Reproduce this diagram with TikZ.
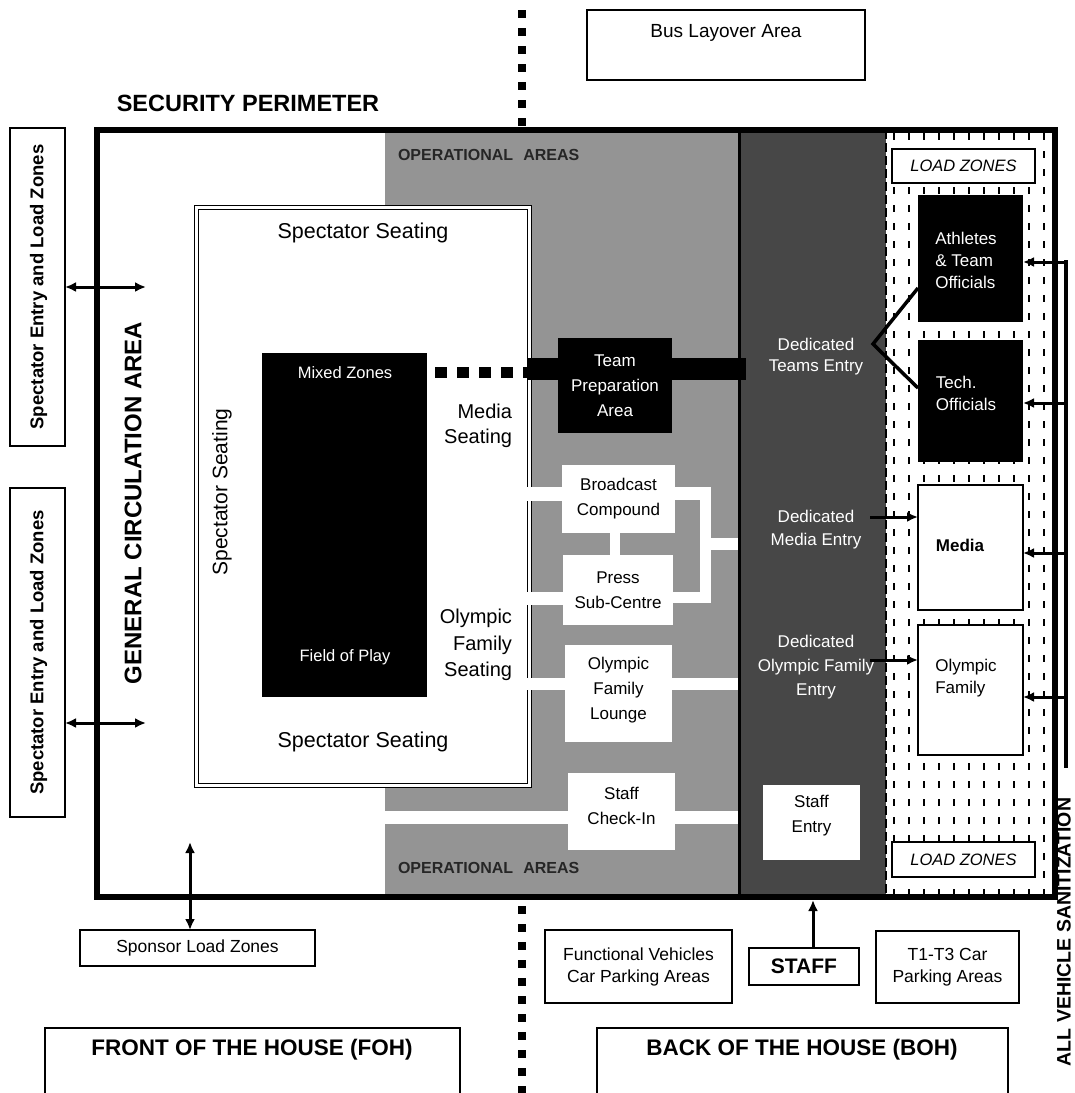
\documentclass[tikz,border=0pt]{standalone}
\usepackage{fontspec}
\setmainfont{Liberation Sans}
\usetikzlibrary{arrows.meta}
\begin{document}
\begin{tikzpicture}[x=1pt,y=-1pt,
  every node/.style={inner sep=0pt, outer sep=0pt},
  wbox/.style={draw=black, line width=1.5pt, fill=white},
  tbox/.style={draw=black, line width=1.3pt, fill=white},
  txt/.style={font=\fontsize{17}{22}\selectfont, align=center},
  wtxt/.style={txt, text=white},
  seat/.style={font=\fontsize{20}{25}\selectfont, align=right},
  arr/.style={line width=3pt, -{Latex[length=11pt,width=10pt]}},
  darr/.style={line width=3pt, {Latex[length=11pt,width=10pt]}-{Latex[length=11pt,width=10pt]}},
  ]
\useasboundingbox (0,0) rectangle (1075,1093);
\fill[white] (0,0) rectangle (1075,1093);

% ---------- regions ----------
\fill[black!42] (385,130) rectangle (738,897);
\fill[black!72] (738,130) rectangle (886,897);

% load zone dash pattern
\begin{scope}
\clip (887,133) rectangle (1052,894);
\foreach \x in {894,909,...,1049}
  \draw[line width=1.8pt, dash pattern=on 7pt off 11pt] (\x,133) -- (\x,897);
\end{scope}
\draw[line width=2pt, dash pattern=on 9pt off 4pt] (886,130) -- (886,897);

% ---------- stadium ----------
\node[draw, fill=white, line width=1.3pt, double, double distance=2.5pt,
      minimum width=333, minimum height=578] (stad) at (363,496.5) {};

% corridors
\fill[white] (526,487) rectangle (565,501);
\fill[white] (526,592) rectangle (565,605);
\fill[white] (526,678) rectangle (739,690);
\fill[white] (385,811) rectangle (739,824);
\fill[white] (672,487) rectangle (711,500);
\fill[white] (672,592) rectangle (711,603);
\fill[white] (700,487) rectangle (711,603);
\fill[white] (700,538) rectangle (739,550);
\fill[white] (610,530) rectangle (620,558);

% field of play
\node[fill=black, minimum width=165, minimum height=344] (fop) at (344.5,525) {};
\node[wtxt, font=\fontsize{16.5}{20}\selectfont] (mz) at (345,373) {Mixed Zones};
\node[wtxt, font=\fontsize{16.5}{20}\selectfont] (fp) at (345,657) {Field of Play};

% team preparation
\coordinate (bandL) at (527,369);
\coordinate (bandR) at (746,369);
\draw[line width=22pt] (bandL) -- (bandR);
\coordinate (sqs) at (435,372);
\coordinate (sqe) at (529,372);
\draw[line width=11pt, dash pattern=on 12pt off 10pt] (sqs) -- (sqe);
\node[fill=black, text=white, txt, font=\fontsize{17}{25}\selectfont,
      minimum width=114, minimum height=95] (tpa) at (615,385.5) {Team\\Preparation\\Area};

% white operational boxes
\node[fill=white, txt, font=\fontsize{17}{25}\selectfont, minimum width=113, minimum height=68] (bc) at (618.5,499) {Broadcast\\Compound};
\node[fill=white, txt, font=\fontsize{17}{25}\selectfont, minimum width=110, minimum height=70] (psc) at (618,590) {Press\\Sub-Centre};
\node[fill=white, minimum width=107, minimum height=97] (ofl) at (618.5,693.5) {};
\node[txt, font=\fontsize{17}{25}\selectfont] (ofltxt) at (618.5,690) {Olympic\\Family\\Lounge};
\node[fill=white, minimum width=107, minimum height=77] (sci) at (621.5,811.5) {};
\node[txt, font=\fontsize{17}{25}\selectfont] (scitxt) at (621.5,806) {Staff\\Check-In};
\node[fill=white, minimum width=97, minimum height=75] (sen) at (811.5,822.5) {};
\node[txt, font=\fontsize{17}{25}\selectfont] (sentxt) at (811.5,816) {Staff\\Entry};

% right column boxes
\node[tbox, minimum width=143, minimum height=34, font=\itshape\fontsize{16.5}{20}\selectfont] (lzt) at (963.5,166) {LOAD ZONES};
\node[fill=black, minimum width=105, minimum height=127] (ath) at (970.5,258.5) {};
\node[wtxt, align=left] (athtxt) at (966,260) {Athletes\\\& Team\\Officials};
\node[fill=black, minimum width=105, minimum height=122] (tech) at (970.5,401) {};
\node[wtxt, align=left] (techtxt) at (966,393) {Tech.\\Officials};
\node[wbox, minimum width=105, minimum height=125] (med) at (970.5,547.5) {};
\node[font=\bfseries\fontsize{17}{20}\selectfont] (medtxt) at (960,545) {Media};
\node[wbox, minimum width=105, minimum height=130] (ofam) at (970.5,690) {};
\node[txt, align=left] (ofamtxt) at (966,678) {Olympic\\Family};
\node[tbox, minimum width=143, minimum height=35, font=\itshape\fontsize{16.5}{20}\selectfont] (lzb) at (963.5,859.5) {LOAD ZONES};

% dividers and perimeter
\draw[line width=3.5pt] (739.5,130) -- (739.5,897);
\draw[line width=6pt] (97,130) rectangle (1055,897);

% dashed FOH/BOH separator
\coordinate (sepA) at (522,10);
\coordinate (sepB) at (522,126);
\coordinate (sepC) at (522,906);
\coordinate (sepD) at (522,1100);
\draw[line width=8pt, dash pattern=on 8pt off 10pt] (sepA) -- (sepB);
\draw[line width=8pt, dash pattern=on 8pt off 10pt] (sepC) -- (sepD);

% dedicated entries (white text)
\node[wtxt, font=\fontsize{17}{21}\selectfont] (dte) at (816,357) {Dedicated\\Teams Entry};
\node[wtxt, font=\fontsize{17}{23}\selectfont] (dme) at (816,530) {Dedicated\\Media Entry};
\node[wtxt, font=\fontsize{17}{24}\selectfont] (dofe) at (816,667) {Dedicated\\Olympic Family\\Entry};

\coordinate (tj) at (873,344);
\draw[line width=3.5pt] ([yshift=-29.5pt]ath.west) -- (tj) -- ([yshift=13pt]tech.west);
\coordinate (dmeR) at (870,517);
\draw[arr] (dmeR) -- ([yshift=30.5pt]med.west);
\coordinate (dofR) at (870,660);
\draw[arr] (dofR) -- ([yshift=30pt]ofam.west);

% vehicle sanitization line
\coordinate (vs1) at (1066,262);
\coordinate (vs2) at (1066,403);
\coordinate (vs3) at (1066,553);
\coordinate (vs4) at (1066,697);
\coordinate (vsB) at (1066,768);
\draw[line width=4pt] ([yshift=2pt]vs1) -- (vsB);
\draw[arr] (vs1) -- (ath.east |- vs1);
\draw[arr] (vs2) -- (tech.east |- vs2);
\draw[arr] (vs3) -- (med.east |- vs3);
\draw[arr] (vs4) -- (ofam.east |- vs4);
\node[rotate=90, font=\bfseries\fontsize{19.5}{22}\selectfont] (avs) at (1064,932) {ALL VEHICLE SANITIZATION};

% stadium texts
\node[font=\fontsize{21.5}{25}\selectfont] (ss1) at (363,233) {Spectator Seating};
\node[font=\fontsize{21.5}{25}\selectfont] (ss2) at (363,742) {Spectator Seating};
\node[font=\fontsize{21}{25}\selectfont, rotate=90] (ss3) at (222,492) {Spectator Seating};
\node[seat, anchor=east] (ms) at (512,425.5) {Media\\Seating};
\node[seat, anchor=east, font=\fontsize{20}{26.5}\selectfont] (ofs) at (512,645) {Olympic\\Family\\Seating};

% operational area labels
\node[anchor=west, font=\bfseries\fontsize{16}{18}\selectfont, text=black!85] (opa1) at (398,155) {OPERATIONAL\hspace{10pt}AREAS};
\node[anchor=west, font=\bfseries\fontsize{16}{18}\selectfont, text=black!85] (opa2) at (398,868) {OPERATIONAL\hspace{10pt}AREAS};

% titles
\node[font=\bfseries\fontsize{23.5}{28}\selectfont] (secp) at (248,103) {SECURITY PERIMETER};
\node[rotate=90, font=\bfseries\fontsize{24}{28}\selectfont] (gca) at (133,503) {GENERAL CIRCULATION AREA};

% left spectator entry boxes
\node[tbox, minimum width=55, minimum height=318] (spec1) at (37.5,287) {};
\node[rotate=90, font=\bfseries\fontsize{18.5}{22}\selectfont] (spec1t) at (38.5,287) {Spectator Entry and Load Zones};
\node[tbox, minimum width=55, minimum height=329] (spec2) at (37.5,652.5) {};
\node[rotate=90, font=\bfseries\fontsize{18.5}{22}\selectfont] (spec2t) at (38.5,652.5) {Spectator Entry and Load Zones};
\coordinate (ga1) at (146,287);
\coordinate (ga2) at (146,723);
\draw[darr] (spec1.east) -- (ga1);
\draw[darr] (spec2.east |- ga2) -- (ga2);

% top bus box
\node[tbox, minimum width=278, minimum height=70] (bus) at (726,45) {};
\node[font=\fontsize{19}{22}\selectfont] (bustxt) at (726,33) {Bus Layover Area};

% bottom boxes
\node[tbox, minimum width=235, minimum height=36, font=\fontsize{17.5}{21}\selectfont] (spons) at (197.5,948) {Sponsor Load Zones};
\coordinate (spt) at (190,842);
\draw[darr] (spt) -- (spt |- spons.north);

\node[tbox, minimum width=187, minimum height=73, font=\fontsize{17.5}{22}\selectfont, align=center] (fvc) at (638.5,966.5) {Functional Vehicles\\Car Parking Areas};
\node[tbox, minimum width=110, minimum height=37, font=\bfseries\fontsize{21}{24}\selectfont] (staff) at (804,966.5) {STAFF};
\coordinate (stp) at (813,900);
\draw[arr] (stp |- staff.north) -- (stp);
\node[tbox, minimum width=143, minimum height=72, font=\fontsize{17.5}{22}\selectfont, align=center] (t13) at (947.5,967) {T1-T3 Car\\Parking Areas};

\draw[line width=1.4pt] (45,1100) |- (460,1028) -- (460,1100);
\node[font=\bfseries\fontsize{22.5}{26}\selectfont] (foh) at (252,1050) {FRONT OF THE HOUSE (FOH)};
\draw[line width=1.4pt] (597,1100) |- (1008,1028) -- (1008,1100);
\node[font=\bfseries\fontsize{22.5}{26}\selectfont] (boh) at (802,1050) {BACK OF THE HOUSE (BOH)};
\end{tikzpicture}
\end{document}
